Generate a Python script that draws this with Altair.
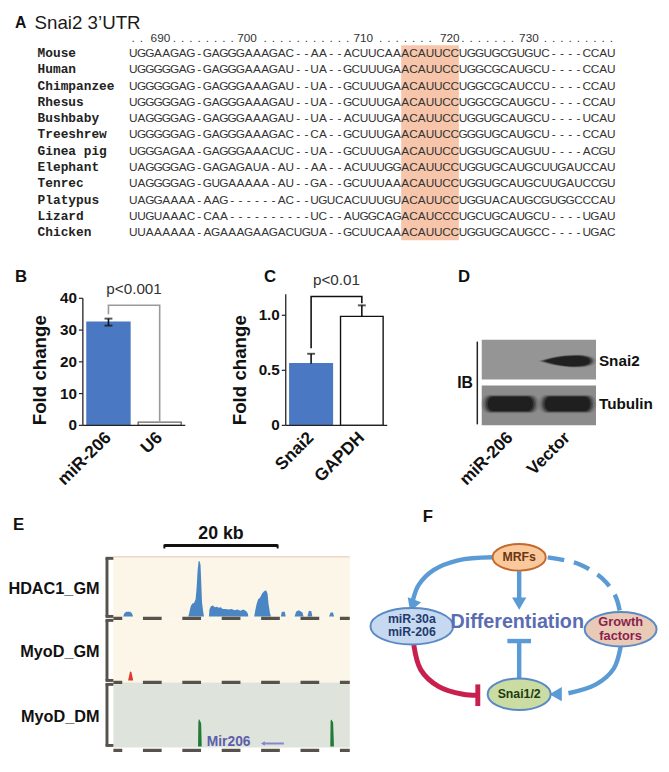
import altair as alt
import pandas as pd

SANS = "Liberation Sans, Arial, Helvetica, sans-serif"
SEQ_FONT = "Liberation Sans Narrow, Arial Narrow, Liberation Sans, Arial, sans-serif"
MONO = "Liberation Mono, Courier New, monospace"
INK = "#111111"

# ====================== DATA ======================
# ---- Panel A: Snai2 3'UTR alignment ----
species = ["Mouse", "Human", "Chimpanzee", "Rhesus", "Bushbaby", "Treeshrew",
           "Ginea pig", "Elephant", "Tenrec", "Platypus", "Lizard", "Chicken"]
sequences = [
    "UGGAAGAG-GAGGGAAAGAC--AA--ACUUCAAACAUUCCUGGUGCGUGUC----CCAU",
    "UGGGGGAG-GAGGGAAAGAU--UA--GCUUUGAACAUUCCUGGCGCAUGCU----CCAU",
    "UGGGGGAG-GAGGGAAAGAU--UA--GCUUUGAACAUUCCUGGCGCAUCCU----CCAU",
    "UGGGGGAG-GAGGGAAAGAU--UA--GCUUUGAACAUUCCUGGCGCAUGCU----CCAU",
    "UAGGGGAG-GAGGGAAAGAU--UA--ACUUUGAACAUUCCUGGUGCAUGCU----UCAU",
    "UGGGGGAG-GAGGGAAAGAC--CA--GCUUUGAACAUUCCGGGUGCAUGCU----CCAU",
    "UGGGAGAA-GAGGGAAACUC--UA--GCUUUGAACAUUCCUGGUGCAUGUU----ACGU",
    "UAGGGGAG-GAGAGAUA-AU--AA--ACUUUGGACAUUCCUGGUGCAUGCUUGAUCCAU",
    "UAGGGGAG-GUGAAAAA-AU--GA--GCUUUAAACAUUCCUGGUGCAUGCUUGAUCCGU",
    "UAGGAAAA-AAG------AC--UGUCACUUUGUACAUUCCUGGUACAUGCGUGGCCCAU",
    "UUGUAAAC-CAA----------UC--AUGGCAGACAUCCCUGCUGCAUGCU----UGAU",
    "UUAAAAAA-AGAAAGAAGACUGUA--GCUUCAAACAUUCCUGGUGCAUGCC----UGAC",
]
ruler_numbers = [690, 700, 710, 720, 730]
ruler_columns = [4.3, 14.8, 28.9, 39.4, 49.0]
seed_columns = [34, 40]

# ---- Panel B ----
b_labels = ["miR-206", "U6"]
b_values = [32.5, 1.0]
b_errors = [1.1, 0.0]
b_ticks = [0, 10, 20, 30, 40]
b_tick_labels = ["0", "10", "20", "30", "40"]
b_bracket_cat = ["miR-206", "miR-206", "U6", "U6"]
b_bracket_y = [35.0, 37.8, 37.8, 1.3]
b_p_text, b_p_y = "p<0.001", 42.8

# ---- Panel C ----
c_labels = ["Snai2", "GAPDH"]
c_values = [0.56, 0.99]
c_errors = [0.09, 0.10]
c_ticks = [0, 0.5, 1.0]
c_tick_labels = ["0", "0.5", "1.0"]
c_bracket_cat = ["Snai2", "Snai2", "GAPDH", "GAPDH"]
c_bracket_y = [0.70, 1.17, 1.17, 1.11]
c_p_text, c_p_y = "p<0.01", 1.32

# ---- Panel D (western blot) ----
lanes = ["miR-206", "Vector"]
blot_rows = ["Snai2", "Tubulin"]
band_lane = ["Vector", "miR-206", "Vector"]
band_row = ["Snai2", "Tubulin", "Tubulin"]

# ---- Panel E (genome tracks, position in kb) ----
track_names = ["HDAC1_GM", "MyoD_GM", "MyoD_DM"]
hdac1_kb = [0.0, 1.74, 1.91, 2.26, 2.96, 3.30, 3.48,
            13.22, 13.39, 13.65, 13.91, 14.26, 14.52, 14.70, 14.87, 15.04, 15.22, 15.39, 15.53, 15.65, 15.83, 16.0,
            16.87, 16.96, 17.22, 17.57, 17.91, 18.26, 18.61, 18.96, 19.30, 19.83, 20.35, 20.87, 21.39, 21.91,
            22.43, 22.96, 23.48, 23.74, 23.83,
            24.87, 25.04, 25.30, 25.57, 25.91, 26.26, 26.61, 26.96, 27.22, 27.39, 27.65, 27.83,
            29.57, 29.74, 30.26, 30.43,
            32.0, 32.26, 32.70, 33.04, 33.39, 33.57, 34.26, 34.52, 34.96, 35.13,
            38.09, 38.35, 38.78, 38.96, 41.74]
hdac1_signal = [0, 0, 0.05, 0.08, 0.08, 0.05, 0,
                0, 0.06, 0.18, 0.22, 0.24, 0.30, 0.50, 0.80, 0.96, 0.97, 0.90, 0.55, 0.25, 0.10, 0,
                0, 0.12, 0.18, 0.19, 0.16, 0.17, 0.15, 0.16, 0.13, 0.13, 0.12, 0.13, 0.11, 0.12,
                0.10, 0.12, 0.09, 0.05, 0,
                0, 0.10, 0.22, 0.30, 0.33, 0.40, 0.44, 0.46, 0.40, 0.22, 0.06, 0,
                0, 0.08, 0.08, 0,
                0, 0.08, 0.11, 0.09, 0.07, 0, 0, 0.10, 0.09, 0,
                0, 0.07, 0.07, 0, 0]
myod_gm_kb = [2.6, 2.95, 3.2, 3.5]
myod_gm_signal = [0, 0.16, 0.14, 0]
myod_dm_kb = [14.95, 15.0, 15.1, 15.3, 15.5, 15.6, 38.3, 38.35, 38.5, 38.8, 38.95]
myod_dm_signal = [0, 0.42, 0.48, 0.45, 0.40, 0, 0, 0.45, 0.47, 0.42, 0]
scale_bar_kb = [9.0, 29.0]
mir206_label_kb = 16.5
mir206_gene_kb = [26.4, 30.1]

# ---- Panel F (schematic, units relative to "Differentiation") ----
node_names = ["MRFs", "miR", "Growth", "Snai"]
node_x = [2, -107, 105, 2]
node_y = [66, -4, -7, -73]
label_text = ["MRFs", "miR-30a", "miR-206", "Growth", "factors", "Snai1/2", "Differentiation"]
label_x = [2, -107, -107, 105, 105, 2, 0]
label_y = [66, 3, -10, 0, -14, -73, 0]
arc_seg = ["a", "a", "a", "a", "a", "b", "b", "c", "c", "c", "c", "d", "d", "e", "e"]
arc_x = [-25, -60, -85, -100, -106, 2, 2, 105, 98, 80, 52, 2, 2, -10, 14]
arc_y = [66, 63, 53, 38, 22, 52, 24, -25, -47, -63, -72, -57, -19, -19, -19]
dash_x = [31, 63, 88, 100, 104]
dash_y = [66, 59, 43, 26, 12]
red_seg = ["r", "r", "r", "r", "r", "t", "t"]
red_x = [-105, -98, -80, -55, -40, -40, -40]
red_y = [-23, -48, -65, -73, -74, -63, -85]
head_x = [-106.5, 2, 39]
head_y = [17, 19, -73]
head_shape = ["triangle-down", "triangle-down", "triangle-left"]
head_angle = [20, 0, 0]

# ====================== HELPERS ======================
W, H = 650, 750
ONE = pd.DataFrame({"z": [0]})


def label(txt, x, y, size=16, weight="bold", align="left", color=INK, font=SANS, angle=None,
          baseline="middle"):
    kw = dict(font=font, fontSize=size, fontWeight=weight, align=align, color=color, baseline=baseline)
    if angle is not None:
        kw["angle"] = angle
    return alt.Chart(pd.DataFrame({"t": [txt]})).mark_text(**kw).encode(
        x=alt.value(x), y=alt.value(y), text="t:N")


def vrule(x, y0, y1, color, width):
    return alt.Chart(ONE).mark_rule(color=color, strokeWidth=width).encode(
        x=alt.value(x), y=alt.value(y0), y2=alt.value(y1))


def hrule(x0, x1, y, color, width):
    return alt.Chart(ONE).mark_rule(color=color, strokeWidth=width).encode(
        x=alt.value(x0), x2=alt.value(x1), y=alt.value(y))


def ellipse_path(r):
    k = 0.5523
    return (f"M -1 0 C -1 {-k*r:.3f} {-k:.3f} {-r:.3f} 0 {-r:.3f} "
            f"C {k:.3f} {-r:.3f} 1 {-k*r:.3f} 1 0 C 1 {k*r:.3f} {k:.3f} {r:.3f} 0 {r:.3f} "
            f"C {-k:.3f} {r:.3f} -1 {k*r:.3f} -1 0 Z")


layers = []

# ====================== PANEL A ======================
COL_PX, ROW_PX = 8.37, 16.55
A_H = 242
ax0 = -113.8 / COL_PX
ay0 = -40.0 / ROW_PX
xA = alt.Scale(domain=[ax0, ax0 + W / COL_PX], range=[0, W], nice=False, zero=False)
yA = alt.Scale(domain=[ay0, ay0 + A_H / ROW_PX], range=[0, A_H], nice=False, zero=False)


def XA(f):
    return alt.X(f"{f}:Q", scale=xA, axis=None)


def YA(f):
    return alt.Y(f"{f}:Q", scale=yA, axis=None)


chars = pd.DataFrame([{"row": r, "col": k + 1, "ch": c}
                      for r, s in enumerate(sequences) for k, c in enumerate(s)])
names = pd.DataFrame({"row": list(range(len(species))), "col": -10.6, "name": species})
dots = pd.DataFrame({"col": [k for k in range(1, 60)
                             if min(abs(k - c) for c in ruler_columns) > 1.6]})
dots["row"] = -0.9
dots["ch"] = "."
nums = pd.DataFrame({"col": ruler_columns, "row": -0.9, "txt": [str(n) for n in ruler_numbers]})
seed = pd.DataFrame({"c0": [seed_columns[0] - 0.5], "c1": [seed_columns[1] + 0.5],
                     "r0": [-0.48], "r1": [len(species) - 1 + 0.48]})

layers += [
    alt.Chart(seed).mark_rect(fill="#f7c6aa").encode(x=XA("c0"), x2="c1", y=YA("r0"), y2="r1"),
    alt.Chart(chars).mark_text(font=SEQ_FONT, fontSize=12, color="#333333").encode(
        x=XA("col"), y=YA("row"), text="ch:N"),
    alt.Chart(dots).mark_text(font=SEQ_FONT, fontSize=12, color="#333333").encode(
        x=XA("col"), y=YA("row"), text="ch:N"),
    alt.Chart(nums).mark_text(font=SEQ_FONT, fontSize=12, color="#333333").encode(
        x=XA("col"), y=YA("row"), text="txt:N"),
    alt.Chart(names).mark_text(font=MONO, fontSize=13, fontWeight="bold", align="left",
                               color="#222222").encode(x=XA("col"), y=YA("row"), text="name:N"),
    label("A", 2, 10, size=16),
    label("Snai2 3\u2019UTR", 22, 10, size=19, weight="normal", color="#1a1a1a"),
]

# ====================== PANEL B / C ======================
def bar_panel(cats, vals, errs, ticks, tick_labels, br_cat, br_y, p_text, p_y,
              x_rng, y_dom, y_rng, fills, strokes, bracket_color, letter_xy, letter, title_xy,
              sym_err):
    xs = alt.Scale(domain=cats, range=x_rng, paddingInner=0.16, paddingOuter=0.08)
    ys = alt.Scale(domain=y_dom, range=y_rng, nice=False, zero=False)
    X = alt.X("cat:N", sort=cats, scale=xs, axis=None)

    def Y(f):
        return alt.Y(f"{f}:Q", scale=ys, axis=None)

    step = (x_rng[1] - x_rng[0]) / (len(cats) - 0.16 + 0.16)
    df = pd.DataFrame({"cat": cats, "val": vals, "err": errs, "fill": fills, "stroke": strokes})
    df["lo"] = df["val"] - df["err"] if sym_err else df["val"]
    df["hi"] = df["val"] + df["err"]
    edf = df[df["err"] > 0]
    x0 = x_rng[0]
    out = [
        alt.Chart(df).mark_bar(strokeWidth=1.4).encode(
            x=X, y=Y("val"), fill=alt.Fill("fill:N", scale=None),
            stroke=alt.Stroke("stroke:N", scale=None)),
        alt.Chart(edf).mark_rule(color=INK, strokeWidth=1.6).encode(x=X, y=Y("lo"), y2="hi:Q"),
        alt.Chart(edf).mark_tick(color=INK, size=8, thickness=2).encode(x=X, y=Y("hi")),
    ]
    if sym_err:
        out.append(alt.Chart(edf).mark_tick(color=INK, size=8, thickness=2).encode(x=X, y=Y("lo")))
    ax = pd.DataFrame({"lo": [y_dom[0]], "hi": [y_dom[1]]})
    tk = pd.DataFrame({"v": ticks, "t": tick_labels})
    out += [
        alt.Chart(ax).mark_rule(color="#222222", strokeWidth=1.3).encode(
            x=alt.value(x0), y=Y("lo"), y2="hi:Q"),
        alt.Chart(ax).mark_rule(color="#222222", strokeWidth=1.3).encode(
            x=alt.value(x0), x2=alt.value(x_rng[1]), y=Y("lo")),
        alt.Chart(tk).mark_rule(color="#222222", strokeWidth=1.2).encode(
            x=alt.value(x0 - 4), x2=alt.value(x0), y=Y("v")),
        alt.Chart(tk).mark_text(font=SANS, fontSize=15.5, fontWeight="bold", color=INK,
                                align="right").encode(x=alt.value(x0 - 6), y=Y("v"), text="t:N"),
        alt.Chart(df).mark_text(font=SANS, fontSize=17.5, fontWeight="bold", color=INK,
                                align="right", baseline="middle", angle=315).encode(
            x=X, y=alt.value(y_rng[0] + 10), text="cat:N"),
    ]
    bdf = pd.DataFrame({"cat": br_cat, "y": br_y, "o": list(range(len(br_y)))})
    out.append(alt.Chart(bdf).mark_line(color=bracket_color, strokeWidth=1.6).encode(
        x=X, y=Y("y"), order="o:Q"))
    pdf = pd.DataFrame({"cat": [cats[0]], "y": [p_y], "t": [p_text]})
    out.append(alt.Chart(pdf).mark_text(font=SANS, fontSize=15.5, color="#333333", dx=step / 2).encode(
        x=X, y=Y("y"), text="t:N"))
    out.append(label(letter, letter_xy[0], letter_xy[1], size=17))
    out.append(label("Fold change", title_xy[0], title_xy[1], size=19, align="center", angle=270))
    return out


layers += bar_panel(b_labels, b_values, b_errors, b_ticks, b_tick_labels, b_bracket_cat, b_bracket_y,
                    b_p_text, b_p_y, [71, 175], [0, 40], [418, 289],
                    ["#4a78c2", "#ffffff"], ["#4a78c2", "#666666"], "#999999",
                    (2, 267), "B", (28, 362), True)
layers += bar_panel(c_labels, c_values, c_errors, c_ticks, c_tick_labels, c_bracket_cat, c_bracket_y,
                    c_p_text, c_p_y, [277, 380], [0, 1.19], [418, 285],
                    ["#4a78c2", "#ffffff"], ["#4a78c2", "#111111"], "#111111",
                    (255, 267), "C", (231, 362), False)

# ====================== PANEL D ======================
xL = alt.Scale(domain=lanes, range=[476, 592], paddingInner=0, paddingOuter=0)
yR = alt.Scale(domain=blot_rows, range=[331, 418], paddingInner=0.13, paddingOuter=0)
mem = pd.DataFrame({"row": blot_rows, "fill": ["#959595", "#8c8c8c"]})
lane_df = pd.DataFrame({"lane": lanes})
pill = "M -0.70 -0.30 C -1.02 -0.30 -1.02 0.30 -0.70 0.30 L 0.70 0.30 C 1.02 0.30 1.02 -0.30 0.70 -0.30 Z"
blob = ("M -1 0 C -0.8 -0.07 -0.5 -0.16 -0.1 -0.2 C 0.4 -0.25 0.96 -0.23 0.98 0 "
        "C 0.96 0.23 0.4 0.25 -0.1 0.2 C -0.5 0.16 -0.8 0.07 -1 0 Z")
band_shape = [blob, pill, pill]
band_width = [52, 54, 54]
blur_levels = [(1.16, 0.10), (1.09, 0.16), (1.03, 0.28), (0.97, 0.45), (0.9, 0.7)]
brows = []
for ln, rw, shp, bw in zip(band_lane, band_row, band_shape, band_width):
    for sc, op in blur_levels:
        brows.append({"lane": ln, "row": rw, "shape": shp, "size": (bw * sc) ** 2, "op": op})
bands = pd.DataFrame(brows)

layers += [
    alt.Chart(mem).mark_rect().encode(
        y=alt.Y("row:N", scale=yR, axis=None), x=alt.value(476), x2=alt.value(592),
        fill=alt.Fill("fill:N", scale=None)),
    alt.Chart(bands).mark_point(filled=True, color="#161616").encode(
        x=alt.X("lane:N", scale=xL, axis=None), y=alt.Y("row:N", scale=yR, axis=None),
        shape=alt.Shape("shape:N", scale=None), size=alt.Size("size:Q", scale=None),
        opacity=alt.Opacity("op:Q", scale=None)),
    alt.Chart(mem).mark_text(font=SANS, fontSize=15.5, fontWeight="bold", align="left", color=INK).encode(
        y=alt.Y("row:N", scale=yR, axis=None), x=alt.value(595), text="row:N"),
    alt.Chart(lane_df).mark_text(font=SANS, fontSize=17.5, fontWeight="bold", color=INK,
                                 align="right", baseline="middle", angle=315).encode(
        x=alt.X("lane:N", scale=xL, axis=None), y=alt.value(428), text="lane:N"),
    vrule(471.5, 333, 417, "#222222", 1.5),
    label("IB", 467, 375, size=16, align="right"),
    label("D", 452, 267, size=17),
]

# ====================== PANEL E ======================
KB_MAX = 240 / 5.75
xK = alt.Scale(domain=[0, KB_MAX], range=[102, 342], nice=False, zero=False)
UNIT = 58.0
DASH = "#57534c"
tracks = [
    # name, kb, signal, color, top, bottom, baseline, bg, dash_y
    (track_names[0], hdac1_kb, hdac1_signal, "#4b86c4", 551, 614, 612, "#fbf6e7", 614),
    (track_names[1], myod_gm_kb, myod_gm_signal, "#e0392b", 614, 679, 677, "#fbf6e7", 679),
    (track_names[2], myod_dm_kb, myod_dm_signal, "#237a37", 679, 745, 744, "#dee3dc", 748),
]
span = pd.DataFrame({"a": [0.0], "b": [KB_MAX]})
for name, kb, sig, color, top, bot, base, bg, dy in tracks:
    ys = alt.Scale(domain=[0, 1], range=[base, base - UNIT], nice=False, zero=False)
    df = pd.DataFrame({"kb": kb, "s": sig})
    layers += [
        alt.Chart(span).mark_rect(fill=bg).encode(
            x=alt.X("a:Q", scale=xK, axis=None), x2="b:Q", y=alt.value(top), y2=alt.value(bot)),
        alt.Chart(df).mark_area(color=color, interpolate="linear", opacity=1).encode(
            x=alt.X("kb:Q", scale=xK, axis=None), y=alt.Y("s:Q", scale=ys, axis=None)),
    ]
for name, kb, sig, color, top, bot, base, bg, dy in tracks:
    layers += [
        alt.Chart(span).mark_rule(color=DASH, strokeWidth=3.2, strokeDash=[19, 21],
                                  strokeDashOffset=10).encode(
            x=alt.X("a:Q", scale=xK, axis=None), x2="b:Q", y=alt.value(dy)),
        vrule(95.5, top + 2, bot - 2, DASH, 3),
        hrule(94, 102, top + 2, DASH, 3),
        hrule(94, 102, bot - 2, DASH, 3),
        label(name, 88, (top + bot) / 2 + 2, size=16.5, align="right"),
    ]

sb = pd.DataFrame({"a": [scale_bar_kb[0]], "b": [scale_bar_kb[1]],
                   "m": [(scale_bar_kb[0] + scale_bar_kb[1]) / 2], "t": ["20 kb"]})
sb_ends = pd.DataFrame({"kb": scale_bar_kb})
gene = pd.DataFrame({"a": [mir206_gene_kb[0]], "b": [mir206_gene_kb[1]],
                     "l": [mir206_label_kb], "t": ["Mir206"]})
layers += [
    alt.Chart(span).mark_rule(color="#f3d6c8", strokeWidth=1.5).encode(
        x=alt.X("a:Q", scale=xK, axis=None), x2="b:Q", y=alt.value(551.5)),
    alt.Chart(sb).mark_rule(color=INK, strokeWidth=3).encode(
        x=alt.X("a:Q", scale=xK, axis=None), x2="b:Q", y=alt.value(540)),
    alt.Chart(sb_ends).mark_rule(color=INK, strokeWidth=2).encode(
        x=alt.X("kb:Q", scale=xK, axis=None), y=alt.value(539), y2=alt.value(543)),
    alt.Chart(sb).mark_text(font=SANS, fontSize=18, fontWeight="bold", color=INK).encode(
        x=alt.X("m:Q", scale=xK, axis=None), y=alt.value(528), text="t:N"),
    alt.Chart(gene).mark_text(font=SANS, fontSize=14, fontWeight="bold", color="#5c5ea8",
                              align="left").encode(
        x=alt.X("l:Q", scale=xK, axis=None), y=alt.value(740), text="t:N"),
    alt.Chart(gene).mark_rule(color="#8686c8", strokeWidth=2).encode(
        x=alt.X("a:Q", scale=xK, axis=None), x2="b:Q", y=alt.value(741)),
    alt.Chart(gene).mark_point(shape="triangle-left", filled=True, size=22, color="#8686c8",
                               opacity=1).encode(x=alt.X("a:Q", scale=xK, axis=None), y=alt.value(741)),
    label("E", 0, 519, size=17),
]

# ====================== PANEL F ======================
xF = alt.Scale(domain=[-170, 138], range=[342, 650], nice=False, zero=False)
yF = alt.Scale(domain=[-132, 112], range=[750, 506], nice=False, zero=False)


def XF(f):
    return alt.X(f"{f}:Q", scale=xF, axis=None)


def YF(f):
    return alt.Y(f"{f}:Q", scale=yF, axis=None)


node_w = [54, 84, 73, 64]
node_h = [27, 37, 35, 32]
nodes = pd.DataFrame({"name": node_names, "x": node_x, "y": node_y})
nodes["shape"] = [ellipse_path(hh / ww) for ww, hh in zip(node_w, node_h)]
nodes["size"] = [ww ** 2 for ww in node_w]
nodes["fill"] = ["#f9c89b", "#c6d9f0", "#e9cab6", "#cadca1"]
nodes["stroke"] = ["#c4692d", "#5a8ac6", "#5a8ac6", "#5a8ac6"]

labels = pd.DataFrame({"t": label_text, "x": label_x, "y": label_y})
labels["color"] = ["#6b3510", "#1f3b6e", "#1f3b6e", "#8b1f4f", "#8b1f4f", "#1d3b13", "#5a6cb2"]
labels["size"] = [12.5, 12.5, 12.5, 13, 13, 12.5, 20]

arcs = pd.DataFrame({"seg": arc_seg, "x": arc_x, "y": arc_y, "o": list(range(len(arc_x)))})
dashes = pd.DataFrame({"x": dash_x, "y": dash_y, "o": list(range(len(dash_x)))})
reds = pd.DataFrame({"seg": red_seg, "x": red_x, "y": red_y, "o": list(range(len(red_x)))})
heads = pd.DataFrame({"x": head_x, "y": head_y, "shape": head_shape, "angle": head_angle})

BLUE = "#5b9bd5"
layers += [
    alt.Chart(arcs).mark_line(color=BLUE, strokeWidth=4.5, interpolate="catmull-rom",
                              strokeCap="butt").encode(
        x=XF("x"), y=YF("y"), detail="seg:N", order="o:Q"),
    alt.Chart(dashes).mark_line(color=BLUE, strokeWidth=4.5, interpolate="catmull-rom",
                                strokeDash=[17, 10]).encode(x=XF("x"), y=YF("y"), order="o:Q"),
    alt.Chart(reds).mark_line(color="#c8204e", strokeWidth=5, interpolate="catmull-rom").encode(
        x=XF("x"), y=YF("y"), detail="seg:N", order="o:Q"),
    alt.Chart(heads).mark_point(filled=True, color=BLUE, size=210, opacity=1).encode(
        x=XF("x"), y=YF("y"), shape=alt.Shape("shape:N", scale=None),
        angle=alt.Angle("angle:Q", scale=None)),
    alt.Chart(nodes).mark_point(filled=True, opacity=1, strokeWidth=2).encode(
        x=XF("x"), y=YF("y"), shape=alt.Shape("shape:N", scale=None),
        size=alt.Size("size:Q", scale=None), fill=alt.Fill("fill:N", scale=None),
        stroke=alt.Stroke("stroke:N", scale=None)),
    alt.Chart(labels).mark_text(font=SANS, fontWeight="bold").encode(
        x=XF("x"), y=YF("y"), text="t:N", color=alt.Color("color:N", scale=None),
        size=alt.Size("size:Q", scale=None)),
    label("F", 416, 511, size=17),
]

chart = alt.layer(*layers).resolve_scale(x="independent", y="independent").properties(
    width=W, height=H, padding=0).configure_view(stroke=None)
chart.save("out.html", embed_options={"renderer": "svg", "actions": False})
